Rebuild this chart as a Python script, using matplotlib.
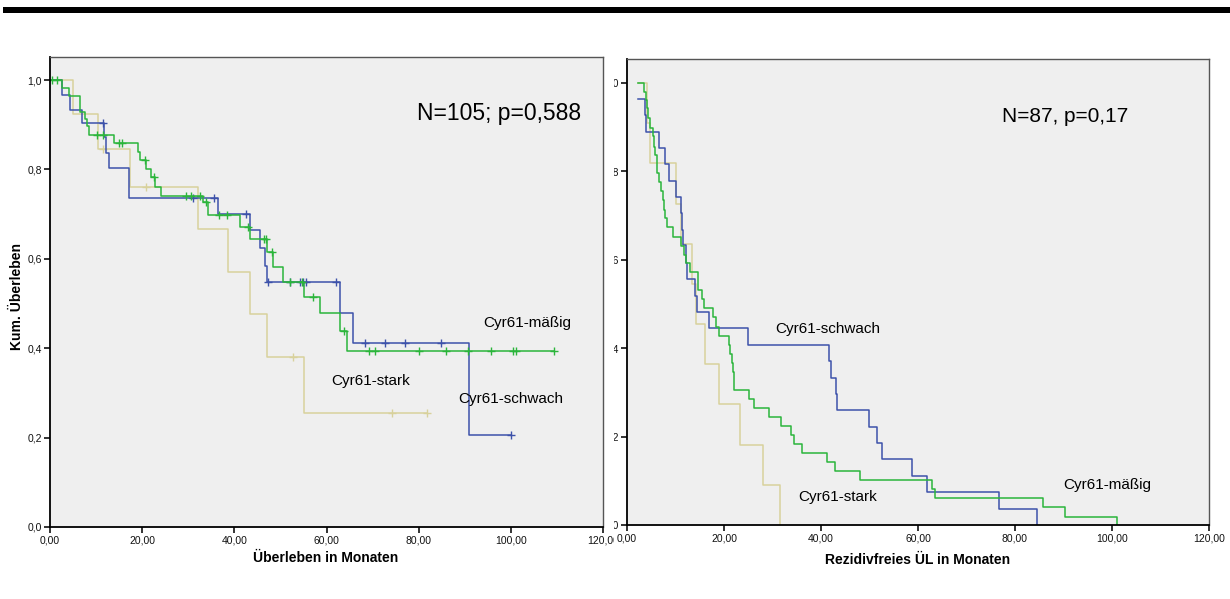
import numpy as np
import matplotlib.pyplot as plt
from matplotlib.patches import Rectangle
from matplotlib.transforms import Bbox

plt.rcParams['font.family'] = ['Liberation Sans', 'DejaVu Sans']

# --- Überleben (left panel) ---
ov_schwach_t = [2.5, 4.3, 6.9, 11.7, 12.1, 12.7, 17.1, 36.4, 43.4, 45.6, 46.7, 47.1, 63.0, 65.8, 90.9]
ov_schwach_s = [0.967, 0.934, 0.903, 0.872, 0.837, 0.804, 0.737, 0.700, 0.664, 0.625, 0.584, 0.547, 0.478, 0.411, 0.206]
ov_schwach_c = [11.6, 31.0, 35.5, 42.6, 47.3, 52.0, 54.3, 54.9, 55.5, 62.0, 68.3, 72.8, 77.0, 84.8, 100.0]

ov_maessig_t = [2.5, 4.1, 6.5, 7.6, 8.1, 8.4, 13.9, 19.2, 19.6, 20.8, 21.9, 22.8, 24.1, 33.1, 34.3,
                41.3, 43.3, 47.1, 48.3, 50.6, 55.1, 58.6, 63.0, 64.5]
ov_maessig_s = [0.981, 0.964, 0.929, 0.912, 0.896, 0.876, 0.858, 0.840, 0.821, 0.801, 0.782, 0.761, 0.740,
                0.726, 0.697, 0.672, 0.644, 0.615, 0.581, 0.549, 0.515, 0.478, 0.439, 0.394]
ov_maessig_c = [0.4, 1.5, 10.1, 11.4, 14.9, 15.6, 20.6, 22.5, 29.6, 30.6, 32.6, 33.9, 36.6, 38.4, 43.0,
                46.4, 46.9, 48.1, 52.0, 54.7, 57.0, 63.9, 69.2, 70.5, 80.1, 85.9, 90.8, 95.7, 100.4, 101.1, 109.4]

ov_stark_t = [4.9, 10.4, 17.4, 32.2, 38.6, 43.3, 47.0, 55.2]
ov_stark_s = [0.924, 0.846, 0.761, 0.666, 0.571, 0.476, 0.381, 0.254]
ov_stark_c = [11.6, 20.8, 52.7, 74.3, 81.9]

# --- Rezidivfreies ÜL (right panel) ---
rf_start = 2.3
rf_schwach_t = [3.7, 3.9, 6.6, 7.8, 8.7, 10.0, 11.1, 11.4, 11.5, 12.2, 12.4, 14.0, 14.4, 16.9, 24.9,
                41.6, 42.1, 43.1, 43.2, 49.8, 51.6, 52.6, 58.8, 61.9, 76.8, 84.6]
rf_schwach_s = [0.928, 0.890, 0.852, 0.816, 0.778, 0.741, 0.705, 0.667, 0.633, 0.592, 0.557, 0.519, 0.481,
                0.445, 0.407, 0.371, 0.333, 0.296, 0.260, 0.222, 0.185, 0.149, 0.111, 0.074, 0.036, 0.0]
rf_schwach_s0 = 0.964

rf_maessig_t = [3.6, 3.9, 4.1, 4.4, 4.7, 5.3, 5.6, 5.8, 6.1, 6.2, 6.5, 7.1, 7.4, 7.7, 7.9, 8.2, 9.5, 11.1,
                11.8, 12.1, 13.0, 14.6, 14.7, 15.4, 15.9, 17.8, 18.3, 19.0, 21.0, 21.2, 21.6, 21.8, 22.0,
                22.1, 25.2, 26.2, 29.3, 31.7, 33.8, 34.5, 36.0, 41.2, 42.9, 48.0, 62.8, 63.6, 85.7, 90.4, 101.0]
rf_maessig_s = [0.980, 0.962, 0.943, 0.920, 0.899, 0.879, 0.856, 0.837, 0.816, 0.796, 0.777, 0.756, 0.735,
                0.713, 0.694, 0.674, 0.652, 0.632, 0.611, 0.592, 0.572, 0.551, 0.532, 0.511, 0.490, 0.470,
                0.449, 0.428, 0.407, 0.387, 0.367, 0.346, 0.326, 0.305, 0.285, 0.265, 0.245, 0.224, 0.204,
                0.183, 0.163, 0.142, 0.122, 0.102, 0.081, 0.061, 0.040, 0.019, 0.0]

rf_stark_t = [4.2, 4.7, 10.1, 11.1, 13.5, 14.2, 16.0, 19.0, 23.3, 28.1, 31.5]
rf_stark_s = [0.909, 0.818, 0.727, 0.636, 0.545, 0.455, 0.364, 0.273, 0.182, 0.091, 0.0]

x_ticks = [0, 20, 40, 60, 80, 100, 120]
x_labels = ['0,00', '20,00', '40,00', '60,00', '80,00', '100,00', '120,00']
y_ticks = [0.0, 0.2, 0.4, 0.6, 0.8, 1.0]
y_labels = ['0,0', '0,2', '0,4', '0,6', '0,8', '1,0']

c_schwach = '#3d52aa'
c_maessig = '#2bb53b'
c_stark = '#d8d19c'


def km(ax, t0, s0, times, surv, color, censors=(), end=None):
    x = [t0] + list(times)
    y = [s0] + list(surv)
    if end is not None:
        x.append(end)
        y.append(y[-1])
    ax.step(x, y, where='post', color=color, lw=1.1)
    if len(censors):
        xs = np.array(x)
        ys = np.array(y)
        idx = np.searchsorted(xs, censors, side='right') - 1
        ax.plot(censors, ys[idx], ls='none', marker='+', ms=6, mew=1.0, color=color)


def style(ax, ytop):
    ax.set_facecolor('#efefef')
    ax.set_xlim(0, 120)
    ax.set_ylim(0, ytop)
    ax.set_xticks(x_ticks)
    ax.set_xticklabels(x_labels)
    ax.set_yticks(y_ticks)
    ax.set_yticklabels(y_labels)
    ax.tick_params(direction='out', length=4, width=1.2, labelsize=7.5, colors='#111111', pad=2)
    for s in ['left', 'bottom']:
        ax.spines[s].set_color('black')
        ax.spines[s].set_linewidth(1.3)
    for s in ['top', 'right']:
        ax.spines[s].set_color('#555555')
        ax.spines[s].set_linewidth(1.0)


fig = plt.figure(figsize=(12.3, 5.99), dpi=100)
W, H = 1230, 599

ax1 = fig.add_axes([50 / W, 1 - 527 / H, 553 / W, 470 / H])
ax2 = fig.add_axes([627 / W, 1 - 525 / H, 582 / W, 466 / H])
style(ax1, 470 / 447)
style(ax2, 466 / 442)

km(ax1, 0, 1.0, ov_stark_t, ov_stark_s, c_stark, ov_stark_c, end=max(ov_stark_c))
km(ax1, 0, 1.0, ov_schwach_t, ov_schwach_s, c_schwach, ov_schwach_c, end=max(ov_schwach_c))
km(ax1, 0, 1.0, ov_maessig_t, ov_maessig_s, c_maessig, ov_maessig_c, end=max(ov_maessig_c))

km(ax2, rf_start, 1.0, rf_stark_t, rf_stark_s, c_stark)
km(ax2, rf_start, rf_schwach_s0, rf_schwach_t, rf_schwach_s, c_schwach)
km(ax2, rf_start, 1.0, rf_maessig_t, rf_maessig_s, c_maessig)

ax1.text(97.4, 0.926, 'N=105; p=0,588', fontsize=16.5, ha='center', va='center')
ax1.text(103.5, 0.456, 'Cyr61-mäßig', fontsize=11, ha='center', va='center')
ax1.text(69.5, 0.327, 'Cyr61-stark', fontsize=11, ha='center', va='center')
ax1.text(100.0, 0.286, 'Cyr61-schwach', fontsize=11, ha='center', va='center')

ax2.text(90.3, 0.925, 'N=87, p=0,17', fontsize=15, ha='center', va='center')
ax2.text(41.4, 0.443, 'Cyr61-schwach', fontsize=11, ha='center', va='center')
ax2.text(43.5, 0.063, 'Cyr61-stark', fontsize=11, ha='center', va='center')
ax2.text(99.0, 0.090, 'Cyr61-mäßig', fontsize=11, ha='center', va='center')

fig.text(326 / W, 1 - 558 / H, 'Überleben in Monaten', fontsize=10, fontweight='bold',
         ha='center', va='center')
fig.text(918 / W, 1 - 560 / H, 'Rezidivfreies ÜL in Monaten', fontsize=10, fontweight='bold',
         ha='center', va='center')
fig.text(17 / W, 1 - 297 / H, 'Kum. Überleben', fontsize=10, fontweight='bold',
         rotation=90, ha='center', va='center')

# black rule at the top of the page
fig.patches.append(Rectangle((3 / W, 1 - 13 / H), 1 - 3 / W, 6 / H, transform=fig.transFigure,
                             facecolor='black', edgecolor='none'))

# the left picture overlaps the right one: clip the right panel's y labels
cut = 614
for lab in ax2.get_yticklabels():
    lab.set_clip_box(Bbox.from_extents(cut, 0, W, H))
    lab.set_clip_on(True)
xl = ax2.get_xticklabels()
xl[0].set_clip_box(Bbox.from_extents(cut, 0, W, H))
xl[0].set_clip_on(True)
xl1 = ax1.get_xticklabels()
xl1[-1].set_clip_box(Bbox.from_extents(0, 0, cut, H))
xl1[-1].set_clip_on(True)

fig.savefig('out.png', dpi=100)
